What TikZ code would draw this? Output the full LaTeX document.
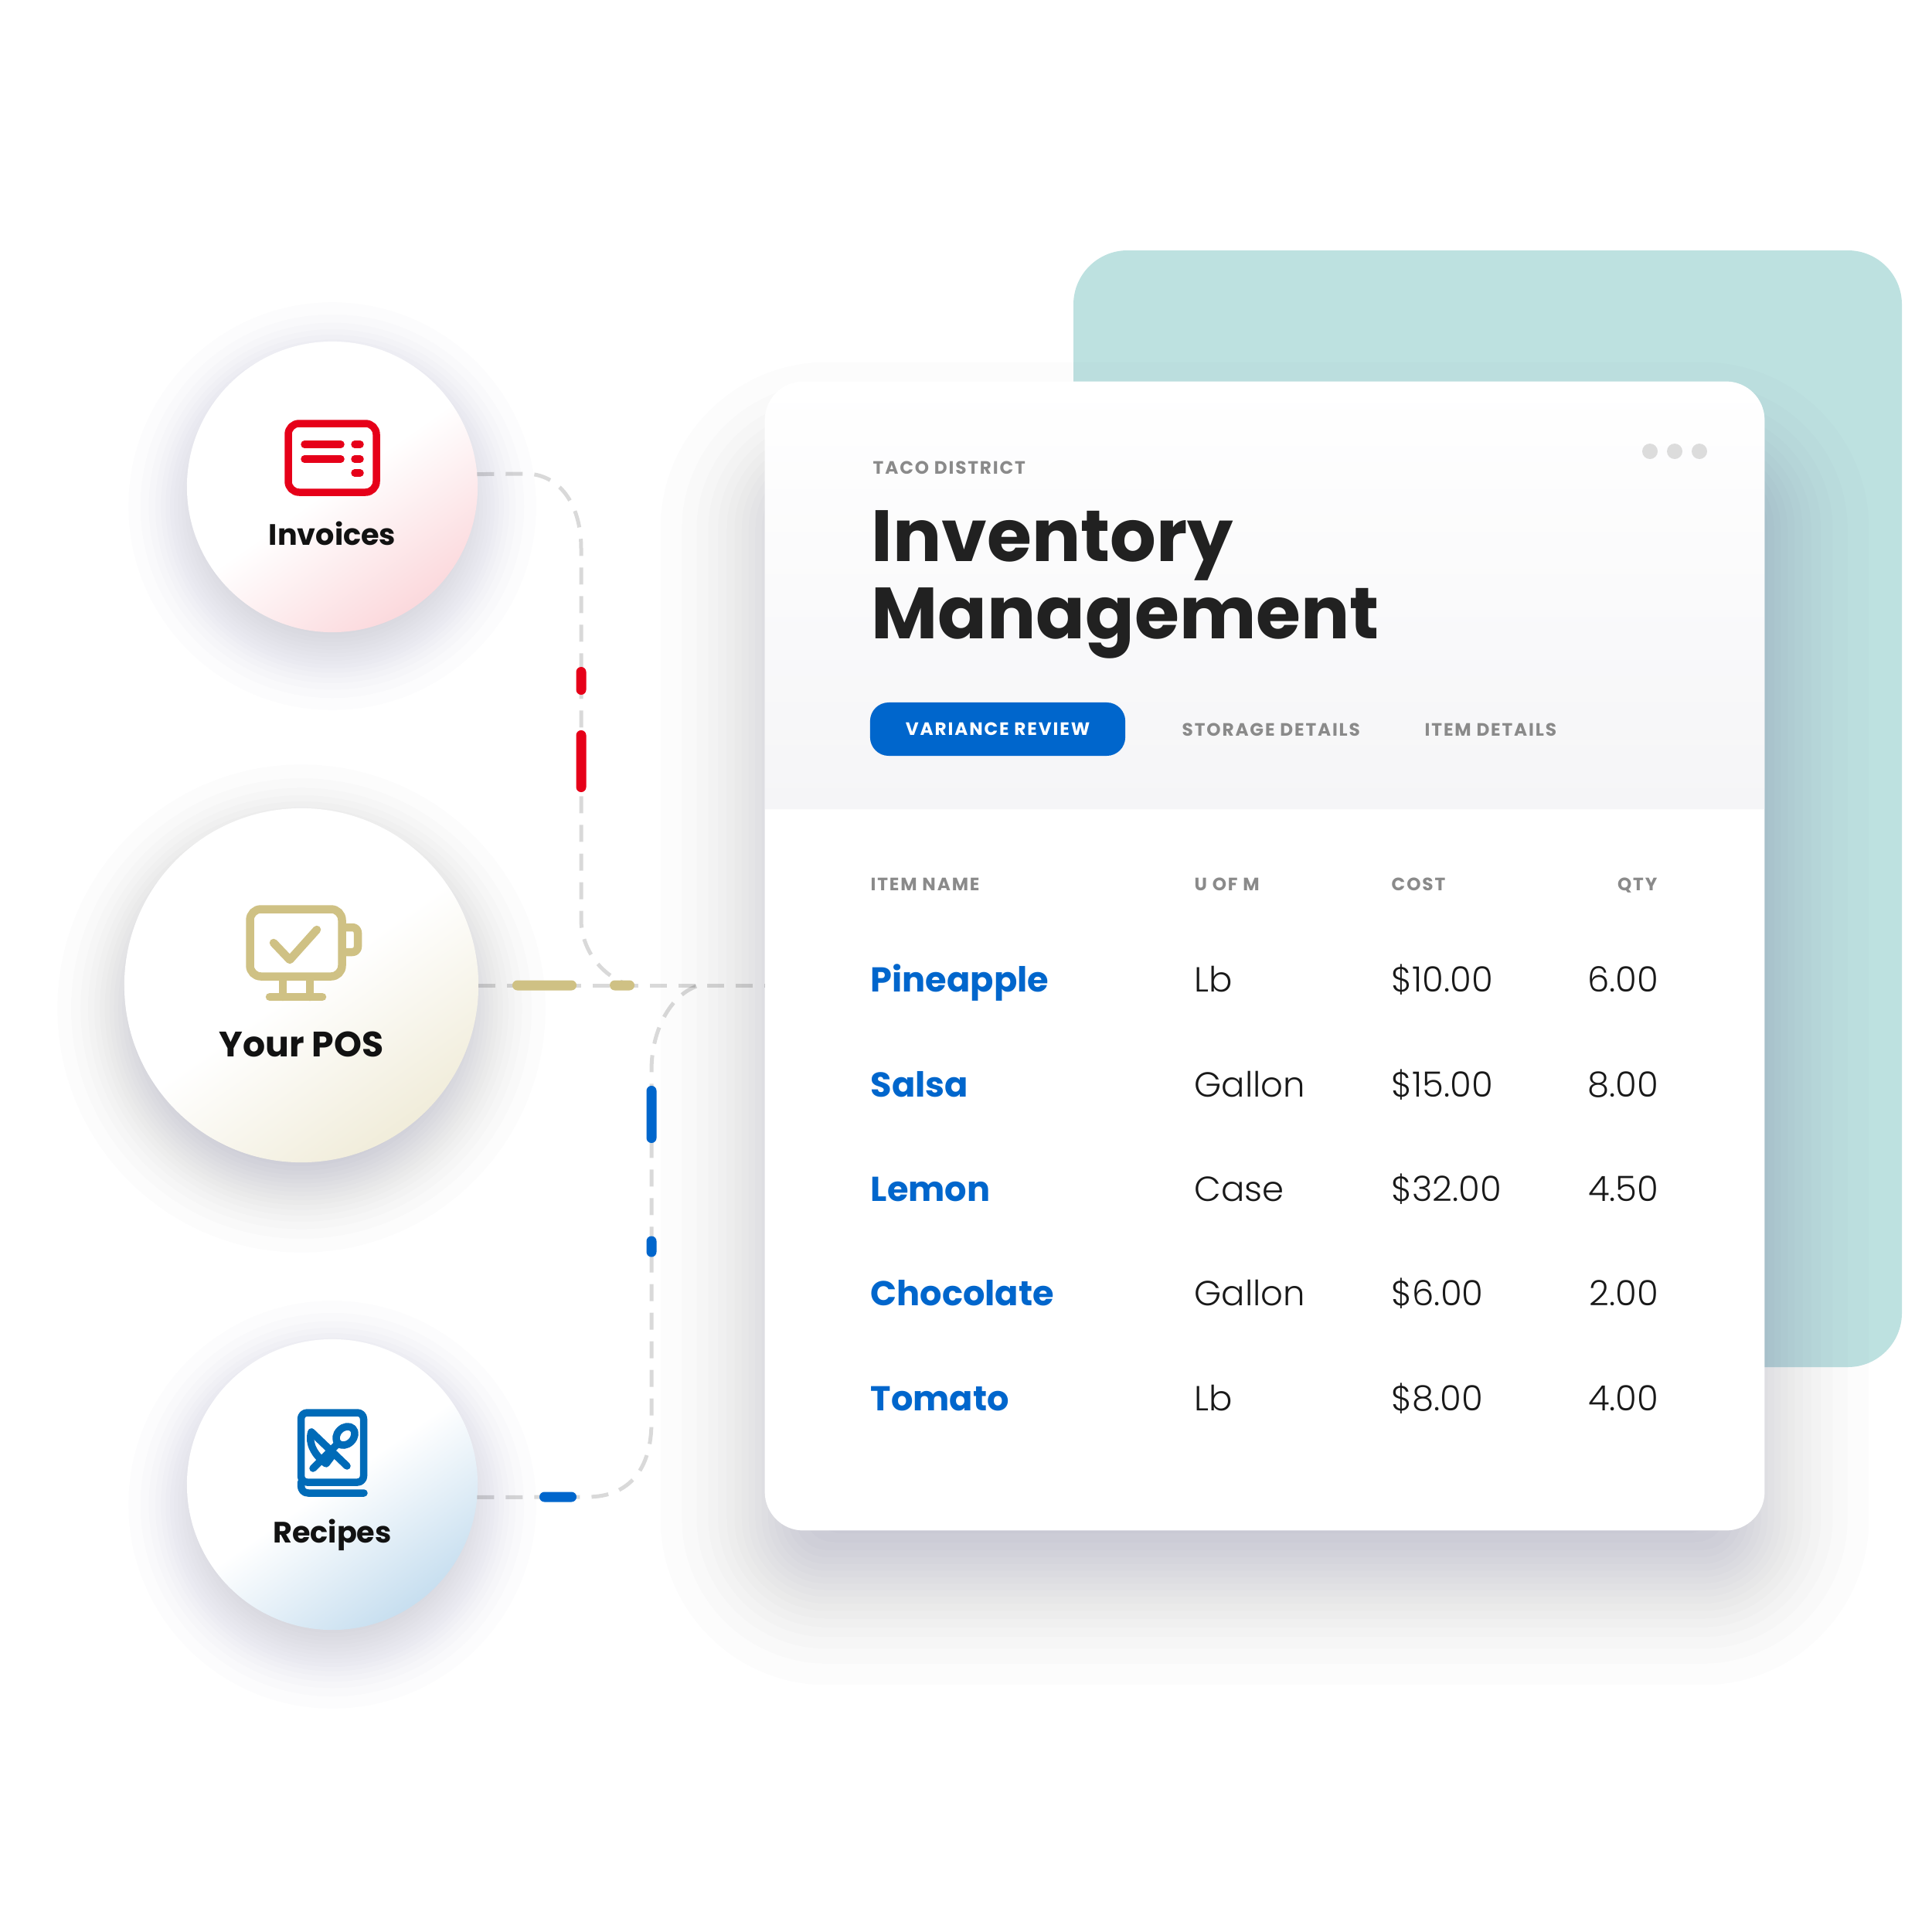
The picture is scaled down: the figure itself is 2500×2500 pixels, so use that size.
\documentclass[tikz,border=0pt]{standalone}
\usepackage{fontspec}
\usepackage{tikz}
\usetikzlibrary{arrows.meta, positioning, calc, shapes.geometric}
\setmainfont{Poppins}
\newfontfamily\popbold{Poppins}[UprightFont=*-Bold]
\newfontfamily\poplight{Poppins}[UprightFont=*-Light]
\newfontfamily\popcaps{Poppins}[UprightFont=*-Bold,LetterSpace=8]
\definecolor{accred}{HTML}{E60019}
\definecolor{accgold}{HTML}{CFC184}
\definecolor{accblue}{HTML}{0066CC}
\definecolor{bookblue}{HTML}{006BB8}
\definecolor{tealback}{HTML}{BDE1E0}
\definecolor{dashgray}{HTML}{DCDCDC}
\definecolor{capsgray}{HTML}{8A8A8A}
\definecolor{softshade}{HTML}{40406C}
\definecolor{headgray}{HTML}{F5F5F7}

\begin{document}
\begin{tikzpicture}[x=0.01cm, y=-0.01cm,
    bubble/.style 2 args={circle,minimum size=#1,inner sep=0pt,outer sep=0pt,shade,bottom color=#2,top color=white,middle color=white,shading angle=35},
    bubbletext/.style={font=\popbold\fontsize{#1}{#1}\selectfont,text=black!93,inner sep=0pt},
    dashline/.style={draw=black,draw opacity=0.15,line width=0.05cm,dash pattern=on 0.22cm off 0.15cm},
    seg/.style={rectangle,rounded corners=0.065cm,inner sep=0pt,outer sep=0pt,minimum width=0.13cm,minimum height=0.13cm},
    capstext/.style={font=\popcaps\fontsize{6.6}{7}\selectfont,text=capsgray,inner sep=0pt,anchor=base west},
    itemname/.style={font=\popbold\fontsize{12.7}{15}\selectfont,text=accblue,inner sep=0pt,anchor=base west},
    itemtext/.style={font=\poplight\fontsize{12.8}{15}\selectfont,text=black!90,inner sep=0pt,anchor=base west},
    itemqty/.style={font=\poplight\fontsize{12.8}{15}\selectfont,text=black!90,inner sep=0pt,anchor=base east},
    icon/.style={line width=0.095cm,line cap=round,line join=round}]
    \useasboundingbox (0,0) rectangle (2500,2500);
    \fill[white] (0,0) rectangle (2500,2500);

    % back panel
    \fill[tealback,rounded corners=0.7cm] (1389,324) rectangle (2461,1769);

    % soft shadows
    \foreach \i in {1,...,23} {
        \pgfmathsetmacro\p{(\i-0.5)/24}
        \pgfmathsetmacro\spread{ln(\p/(1-\p))}
        \pgfmathsetmacro\e{50*\spread}
        \pgfmathsetmacro\rad{max(0.4,0.8+\e/100)}
        \fill[softshade,opacity=0.0153,rounded corners=\rad cm] (990-\e,494+110-\e) rectangle (2283+\e,1980+65+\e);
        \fill[softshade,opacity=0.0103] (430,655) circle ({188+28*\spread});
        \fill[softshade,opacity=0.0148] (390,1305) circle ({229+32*\spread});
        \fill[softshade,opacity=0.0103] (430,1947) circle ({188+28*\spread});
    }

    % card
    \node[rectangle,rounded corners=0.5cm,fill=white,minimum width=12.93cm,minimum height=14.86cm,inner sep=0pt,outer sep=0pt] (card) at (1636.5,1237) {};
    \shade[top color=white,bottom color=headgray] (990,1047) {[rounded corners=0.5cm] -- (990,494) -- (2283,494)} -- (2283,1047) -- cycle;

    % circles
    \node[bubble={3.76cm}{accred!15}] (inv) at (430,630) {};
    \node[bubble={4.58cm}{accgold!30}] (pos) at (390,1275) {};
    \node[bubble={3.76cm}{bookblue!22}] (rec) at (430,1921) {};
    \node[bubbletext=10.85] (invtext) at (430,690) {Invoices};
    \node[bubbletext=13] (postext) at (390,1351) {Your POS};
    \node[bubbletext=10.85] (rectext) at (430,1986) {Recipes};

    % dashed connectors
    \coordinate (merge1) at (815,1275);
    \coordinate (merge2) at (905,1275);
    \draw[dashline] (inv.5) -- (680,613) .. controls (722,613) and (752,650) .. (752,710) -- (752,1190) .. controls (752,1225) and (775,1262) .. (merge1);
    \draw[dashline] (pos.east) -- (card.west |- pos.east);
    \draw[dashline] (rec.-5) -- (760,1937) .. controls (815,1937) and (843,1900) .. (843,1840) -- (843,1385) .. controls (843,1330) and (870,1285) .. (merge2);

    % coloured pieces on the lines
    \node[seg,fill=accred,minimum height=0.36cm] (reda) at (752,881) {};
    \node[seg,fill=accred,minimum height=0.80cm] (redb) at (752,985) {};
    \node[seg,fill=accgold,minimum width=0.83cm] (golda) at (704.5,1275) {};
    \node[seg,fill=accgold,minimum width=0.32cm] (goldb) at (805,1275) {};
    \node[seg,fill=accblue,minimum height=0.74cm] (bluea) at (843,1442) {};
    \node[seg,fill=accblue,minimum height=0.27cm] (blueb) at (843,1613) {};
    \node[seg,fill=accblue,minimum width=0.48cm] (bluec) at (722,1937) {};

    % invoice icon
    \draw[icon,accred,rounded corners=0.14cm] (373,548) rectangle (487,637);
    \draw[icon,accred] (394,575) -- (441,575);
    \draw[icon,accred] (394,594) -- (441,594);
    \draw[icon,accred] (459,575) -- (466,575);
    \draw[icon,accred] (459,594) -- (466,594);
    \draw[icon,accred] (459,612) -- (466,612);

    % monitor icon
    \draw[icon,accgold,line width=0.105cm,rounded corners=0.14cm] (323.5,1176.5) rectangle (442.5,1263.5);
    \draw[icon,accgold,line width=0.105cm,rounded corners=0.07cm] (448,1200) -- (463,1200) -- (463,1232) -- (448,1232);
    \draw[icon,accgold,line width=0.105cm] (354,1220) -- (375,1242) -- (410,1203);
    \draw[icon,accgold,line width=0.105cm] (366,1269) -- (366,1290);
    \draw[icon,accgold,line width=0.105cm] (401,1269) -- (401,1290);
    \draw[icon,accgold,line width=0.105cm] (349,1290) -- (417,1290);

    % book icon
    \draw[icon,bookblue,rounded corners=0.08cm] (389.5,1918) -- (389.5,1828) -- (470.5,1828) -- (470.5,1918) -- cycle;
    \draw[icon,bookblue] (389.5,1918) -- (389.5,1922) .. controls (389.5,1928) and (393,1932) .. (399,1932) -- (471,1932);
    \draw[icon,bookblue,rotate around={45:(447,1858)}] (447,1858) ellipse (0.135cm and 0.105cm);
    \draw[icon,bookblue] (436,1869) -- (405,1900);
    \draw[icon,bookblue] (403,1853) -- (449,1897);
    \draw[icon,bookblue] (403,1853) .. controls (398,1868) and (408,1884) .. (422,1894) -- (431,1882);

    % card head
    \node[capstext] (brand) at (1129,613) {TACO DISTRICT};
    \node[font=\popbold\fontsize{26.7}{28.5}\selectfont,text=black!87,align=left,inner sep=0pt,anchor=north west] (title) at (1127,660) {Inventory\\Management};
    \fill[dashgray] (2135,584) circle (10);
    \fill[dashgray] (2167,584) circle (10);
    \fill[dashgray] (2199,584) circle (10);

    % tabs
    \node[rectangle,fill=accblue,rounded corners=0.24cm,minimum width=3.30cm,minimum height=0.69cm,inner sep=0pt,font=\popcaps\fontsize{6.6}{7}\selectfont,text=white] (tabvar) at (1291,943.5) {VARIANCE REVIEW};
    \node[capstext] (tabstore) at (1529,952) {STORAGE DETAILS};
    \node[capstext] (tabitem) at (1843,952) {ITEM DETAILS};

    % table head
    \node[capstext] (headname) at (1126,1152) {ITEM NAME};
    \node[capstext] (headuom) at (1545,1152) {U OF M};
    \node[capstext] (headcost) at (1800,1152) {COST};
    \node[capstext,anchor=base east] (headqty) at (2145,1152) {QTY};

    % table rows
    \node[itemname] (rowa) at (1126,1283) {Pineapple};
    \node[itemtext] (rowau) at (1545,1283) {Lb};
    \node[itemtext] (rowac) at (1800,1283) {\$10.00};
    \node[itemqty] (rowaq) at (2147,1283) {6.00};

    \node[itemname] (rowb) at (1126,1419) {Salsa};
    \node[itemtext] (rowbu) at (1545,1419) {Gallon};
    \node[itemtext] (rowbc) at (1800,1419) {\$15.00};
    \node[itemqty] (rowbq) at (2147,1419) {8.00};

    \node[itemname] (rowc) at (1126,1554) {Lemon};
    \node[itemtext] (rowcu) at (1545,1554) {Case};
    \node[itemtext] (rowcc) at (1800,1554) {\$32.00};
    \node[itemqty] (rowcq) at (2147,1554) {4.50};

    \node[itemname] (rowd) at (1126,1689) {Chocolate};
    \node[itemtext] (rowdu) at (1545,1689) {Gallon};
    \node[itemtext] (rowdc) at (1800,1689) {\$6.00};
    \node[itemqty] (rowdq) at (2147,1689) {2.00};

    \node[itemname] (rowe) at (1126,1825) {Tomato};
    \node[itemtext] (roweu) at (1545,1825) {Lb};
    \node[itemtext] (rowec) at (1800,1825) {\$8.00};
    \node[itemqty] (roweq) at (2147,1825) {4.00};
\end{tikzpicture}
\end{document}
